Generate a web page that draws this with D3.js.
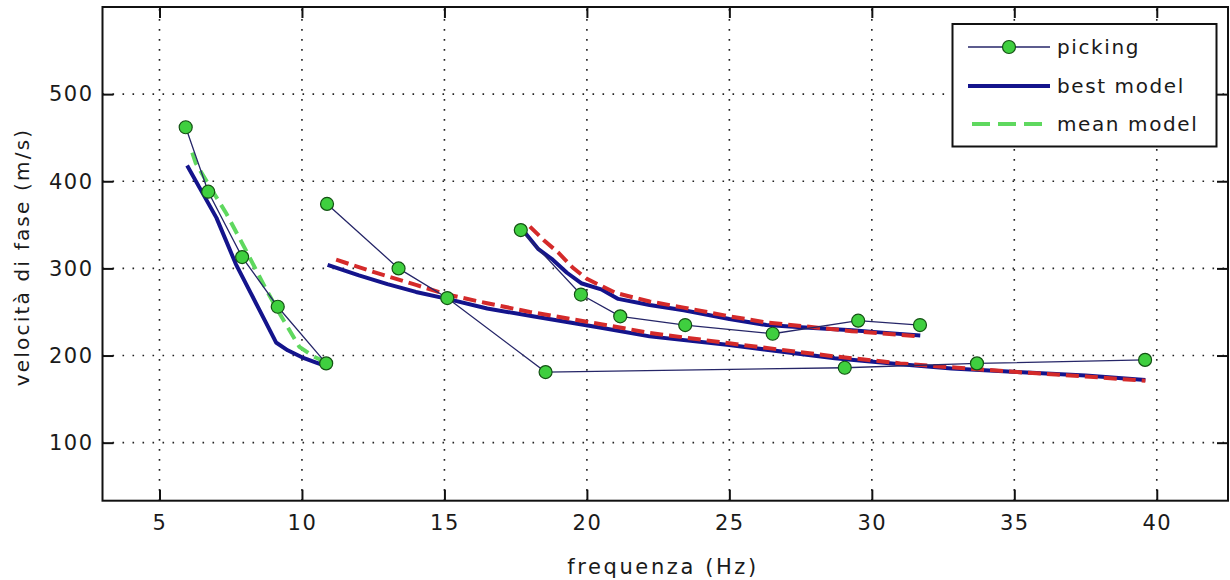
<!DOCTYPE html>
<html>
<head>
<meta charset="utf-8">
<script src="https://cdn.jsdelivr.net/npm/d3@7"></script>
<style>
  html, body { margin: 0; padding: 0; background: #fff; }
  svg text { font-family: "DejaVu Sans", sans-serif; fill: #1a1a1a; }
</style>
</head>
<body>
<svg id="chart" width="1230" height="580"></svg>
<script>
// ---------------- DATA ----------------
const xTicks = [5, 10, 15, 20, 25, 30, 35, 40];
const yTicks = [100, 200, 300, 400, 500];
const xDomain = [3, 42.5];
const yDomain = [33.4, 600];

// picking (measured points) – three separate branches [freq Hz, velocity m/s]
const pickingA = [[5.92, 462], [6.71, 388], [7.90, 313], [9.15, 256], [10.85, 191]];
const pickingB = [[10.88, 374], [13.39, 300], [15.10, 266], [18.55, 181], [29.05, 186], [33.69, 191], [39.59, 195]];
const pickingC = [[17.68, 344], [19.79, 270], [21.17, 245], [23.45, 235], [26.52, 225], [29.52, 240], [31.69, 235]];

// best model (blue)
const bestA = [[5.97, 418], [6.4, 393], [7.0, 358], [7.68, 305], [8.2, 272], [8.7, 240], [9.09, 215], [9.5, 206], [10.0, 198], [10.5, 192], [10.85, 188]];
const bestB = [[10.9, 304], [12.0, 292], [13.0, 282], [14.0, 273], [15.1, 265], [16.5, 254], [18.1, 245], [20.5, 232], [22.2, 222], [25.0, 212], [28.7, 197], [31.0, 190], [32.8, 185], [35.1, 181], [37.5, 177], [39.6, 172]];
const bestC = [[17.8, 342], [18.3, 322], [18.8, 310], [19.3, 295], [19.8, 283], [20.5, 276], [21.1, 265], [22.2, 258], [23.4, 252], [25.0, 242], [26.3, 235], [27.8, 232], [29.3, 229], [30.5, 226], [31.7, 223]];

// mean model: green dashed (first branch), red dashed (higher branches)
const meanA = [[6.15, 433], [6.27, 421], [6.8, 392], [7.33, 364], [8.03, 321], [8.74, 276], [9.2, 249], [9.91, 210], [10.4, 199], [10.85, 192]];
const meanB = [[11.2, 310], [12.5, 296], [14.0, 281], [15.1, 270], [16.5, 260], [18.0, 250], [20.5, 236], [22.2, 226], [25.0, 214], [28.7, 199], [31.0, 191], [33.0, 186], [35.1, 181], [37.5, 176], [39.6, 171]];
const meanC = [[18.0, 348], [18.5, 332], [19.0, 318], [19.5, 301], [20.0, 288], [21.0, 272], [22.2, 262], [23.4, 255], [25.0, 245], [26.3, 238], [27.8, 233], [29.3, 228], [30.5, 225], [31.7, 222]];

const legendLabels = ["picking", "best model", "mean model"];
const xLabel = "frequenza (Hz)";
const yLabel = "velocità di fase (m/s)";

// ---------------- LAYOUT ----------------
const svg = d3.select("#chart");
const L = 102.5, R = 1228, T = 7, B = 500.7;
const x = d3.scaleLinear().domain(xDomain).range([L, R]);
const y = d3.scaleLinear().domain(yDomain).range([B, T]);

svg.append("defs").append("clipPath").attr("id", "plotclip")
  .append("rect").attr("x", L).attr("y", T).attr("width", R - L).attr("height", B - T);

// grid
const grid = svg.append("g").attr("stroke", "#222").attr("stroke-width", 1.6)
  .attr("stroke-dasharray", "1.6,8.4");
grid.selectAll(".gx").data(xTicks).enter().append("line")
  .attr("x1", d => x(d)).attr("x2", d => x(d)).attr("y1", B).attr("y2", T);
grid.selectAll(".gy").data(yTicks).enter().append("line")
  .attr("y1", d => y(d)).attr("y2", d => y(d)).attr("x1", L).attr("x2", R);

const plot = svg.append("g").attr("clip-path", "url(#plotclip)");
const line = d3.line().x(d => x(d[0])).y(d => y(d[1]));

// best model
[bestA, bestB, bestC].forEach(s => {
  plot.append("path").attr("d", line(s)).attr("fill", "none")
    .attr("stroke", "#14148c").attr("stroke-width", 4).attr("stroke-linejoin", "round");
});
// mean model
plot.append("path").attr("d", line(meanA)).attr("fill", "none")
  .attr("stroke", "#5fd85f").attr("stroke-width", 4).attr("stroke-dasharray", "13,7");
[meanB, meanC].forEach(s => {
  plot.append("path").attr("d", line(s)).attr("fill", "none")
    .attr("stroke", "#d42a2a").attr("stroke-width", 4).attr("stroke-dasharray", "13,6");
});
// picking
[pickingA, pickingB, pickingC].forEach(s => {
  plot.append("path").attr("d", line(s)).attr("fill", "none")
    .attr("stroke", "#262668").attr("stroke-width", 1.3);
});
[pickingA, pickingB, pickingC].forEach(s => {
  plot.selectAll(null).data(s).enter().append("circle")
    .attr("cx", d => x(d[0])).attr("cy", d => y(d[1])).attr("r", 6.5)
    .attr("fill", "#3fcf3f").attr("stroke", "#145214").attr("stroke-width", 1.2);
});

// axes (MATLAB style box with inward ticks)
const tickLen = 11;
const axisG = svg.append("g");
axisG.append("g").attr("transform", `translate(0,${B})`)
  .call(d3.axisBottom(x).tickValues(xTicks).tickSizeInner(-tickLen).tickSizeOuter(0).tickPadding(14));
axisG.append("g").attr("transform", `translate(0,${T})`)
  .call(d3.axisTop(x).tickValues(xTicks).tickSizeInner(-tickLen).tickSizeOuter(0).tickFormat(""));
axisG.append("g").attr("transform", `translate(${L},0)`)
  .call(d3.axisLeft(y).tickValues(yTicks).tickSizeInner(-tickLen).tickSizeOuter(0).tickPadding(9));
axisG.append("g").attr("transform", `translate(${R},0)`)
  .call(d3.axisRight(y).tickValues(yTicks).tickSizeInner(-tickLen).tickSizeOuter(0).tickFormat(""));
axisG.selectAll(".domain").remove();
axisG.selectAll(".tick line").attr("stroke", "#111").attr("stroke-width", 2);
axisG.selectAll(".tick text").attr("font-size", 21).attr("letter-spacing", 1.5)
  .attr("font-family", "DejaVu Sans").attr("fill", "#1a1a1a");
svg.append("rect").attr("x", L).attr("y", T).attr("width", R - L).attr("height", B - T)
  .attr("fill", "none").attr("stroke", "#111").attr("stroke-width", 2);

// axis labels
svg.append("text").attr("x", 663).attr("y", 574).attr("text-anchor", "middle")
  .attr("font-size", 21).attr("letter-spacing", 2.6).text(xLabel);
svg.append("text").attr("transform", `translate(29,257) rotate(-90)`).attr("text-anchor", "middle")
  .attr("font-size", 20).attr("letter-spacing", 2.2).text(yLabel);

// legend
const lg = svg.append("g");
lg.append("rect").attr("x", 952.5).attr("y", 24).attr("width", 264).attr("height", 122.5)
  .attr("fill", "#fff").attr("stroke", "#111").attr("stroke-width", 2);
const rowsY = [47, 86, 124];
const lx0 = 968, lx1 = 1050;
lg.append("line").attr("x1", lx0).attr("x2", lx1).attr("y1", rowsY[0]).attr("y2", rowsY[0])
  .attr("stroke", "#262668").attr("stroke-width", 1.3);
lg.append("circle").attr("cx", 1009).attr("cy", rowsY[0]).attr("r", 6.5)
  .attr("fill", "#3fcf3f").attr("stroke", "#145214").attr("stroke-width", 1.2);
lg.append("line").attr("x1", lx0).attr("x2", lx1).attr("y1", rowsY[1]).attr("y2", rowsY[1])
  .attr("stroke", "#14148c").attr("stroke-width", 4);
lg.append("line").attr("x1", lx0 + 4).attr("x2", lx1).attr("y1", rowsY[2]).attr("y2", rowsY[2])
  .attr("stroke", "#5fd85f").attr("stroke-width", 4).attr("stroke-dasharray", "18,8");
legendLabels.forEach((t, i) => {
  lg.append("text").attr("x", 1057).attr("y", rowsY[i]).attr("dy", "0.35em")
    .attr("font-size", 20).attr("letter-spacing", 1.6).text(t);
});
</script>
</body>
</html>
